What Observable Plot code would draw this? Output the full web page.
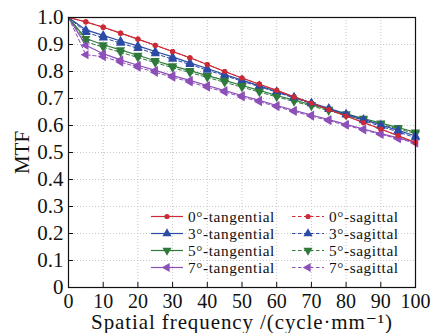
<!DOCTYPE html>
<html><head><meta charset="utf-8">
<script src="https://cdn.jsdelivr.net/npm/d3@7"></script>
<script src="https://cdn.jsdelivr.net/npm/@observablehq/plot@0.6"></script>
<style>
body{margin:0;background:#fff;}
#wrap{position:relative;width:432px;height:333px;}
#legend{position:absolute;left:0;top:0;font:15.3px "Liberation Serif","Times New Roman","DejaVu Serif",serif;letter-spacing:0.6px;color:#111;}
.row{position:absolute;height:17px;line-height:17px;white-space:nowrap;display:flex;align-items:center;}
.row svg{margin-right:5px;}
</style></head><body><div id="wrap"></div>
<script>
const freq = [0,5,10,15,20,25,30,35,40,45,50,55,60,65,70,75,80,85,90,95,100];
const t0 = [1.0,0.984,0.964,0.942,0.920,0.897,0.874,0.851,0.826,0.800,0.776,0.753,0.730,0.706,0.683,0.659,0.635,0.611,0.587,0.562,0.537];
const s0 = [1.0,0.984,0.964,0.942,0.920,0.897,0.874,0.851,0.826,0.800,0.776,0.753,0.730,0.706,0.683,0.659,0.635,0.611,0.587,0.562,0.537];
const t3 = [1.0,0.954,0.934,0.913,0.895,0.874,0.854,0.832,0.811,0.789,0.768,0.747,0.726,0.705,0.684,0.664,0.643,0.623,0.602,0.582,0.561];
const s3 = [1.0,0.945,0.925,0.905,0.886,0.866,0.846,0.826,0.805,0.785,0.764,0.744,0.723,0.702,0.681,0.660,0.639,0.618,0.597,0.576,0.555];
const t5 = [1.0,0.922,0.899,0.880,0.860,0.840,0.821,0.803,0.785,0.767,0.748,0.730,0.711,0.694,0.677,0.660,0.643,0.626,0.609,0.592,0.575];
const s5 = [1.0,0.910,0.890,0.871,0.852,0.833,0.814,0.796,0.778,0.760,0.742,0.724,0.706,0.689,0.672,0.655,0.638,0.621,0.604,0.587,0.570];
const t7 = [1.0,0.897,0.866,0.843,0.823,0.804,0.785,0.767,0.748,0.729,0.711,0.693,0.674,0.656,0.639,0.622,0.604,0.587,0.570,0.554,0.538];
const s7 = [1.0,0.862,0.855,0.835,0.816,0.797,0.779,0.761,0.742,0.724,0.706,0.688,0.670,0.652,0.635,0.618,0.601,0.584,0.567,0.551,0.535];
const xTicks = [0,10,20,30,40,50,60,70,80,90,100];
const yTicks = [0,0.1,0.2,0.3,0.4,0.5,0.6,0.7,0.8,0.9,1.0];

const series = [
  {name:"0°-tangential", vals:t0, color:"#cc2a36", symbol:"circle", rotate:0, dash:null},
  {name:"3°-tangential", vals:t3, color:"#2b4ba5", symbol:"triangle", rotate:0, dash:null},
  {name:"5°-tangential", vals:t5, color:"#2f7a3b", symbol:"triangle", rotate:180, dash:null},
  {name:"7°-tangential", vals:t7, color:"#8d4fb8", symbol:"triangle", rotate:-90, dash:null},
  {name:"0°-sagittal", vals:s0, color:"#cc2a36", symbol:"circle", rotate:0, dash:"3.5,2.5"},
  {name:"3°-sagittal", vals:s3, color:"#2b4ba5", symbol:"triangle", rotate:0, dash:"3.5,2.5"},
  {name:"5°-sagittal", vals:s5, color:"#2f7a3b", symbol:"triangle", rotate:180, dash:"3.5,2.5"},
  {name:"7°-sagittal", vals:s7, color:"#8d4fb8", symbol:"triangle", rotate:-90, dash:"3.5,2.5"}
];

const marks = [
  Plot.gridX(xTicks.slice(1,-1), {stroke:"#c8c8c8", strokeOpacity:1, strokeDasharray:"1,2"}),
  Plot.gridY(yTicks.slice(1,-1), {stroke:"#c8c8c8", strokeOpacity:1, strokeDasharray:"1,2"})
];
for (const s of [...series].reverse()) {
  const data = freq.map((f,i)=>({x:f, y:s.vals[i]}));
  marks.push(Plot.line(data, {x:"x", y:"y", stroke:s.color, strokeWidth:s.dash?1:1.2, strokeDasharray:s.dash}));
  marks.push(Plot.dot(data.filter(d=>d.x>0), {x:"x", y:"y", symbol:s.symbol, r:s.symbol==="circle"?2.6:3.4, fill:s.color, stroke:"none", rotate:s.rotate}));
}
marks.push(
  Plot.frame({stroke:"#111", strokeWidth:1.2}),
  Plot.axisX(xTicks, {tickSize:5, dy:-5, tickFormat:()=>"", stroke:"#111", label:null}),
  Plot.axisY(yTicks, {tickSize:5, dx:5, tickFormat:()=>"", stroke:"#111", label:null}),
  Plot.axisX(xTicks, {tickSize:0, tickPadding:6, fontSize:20, fill:"#111", label:null}),
  Plot.axisX(xTicks, {tickSize:0, tickFormat:()=>"", fontSize:21, fill:"#111", label:"Spatial frequency /(cycle·mm⁻¹)", labelAnchor:"center", labelArrow:"none", labelOffset:41.5}),
  Plot.axisY(yTicks, {tickSize:0, tickPadding:5, fontSize:21, fill:"#111", tickFormat:d=>d===0?"0":d.toFixed(1), label:"MTF", labelAnchor:"center", labelArrow:"none", labelOffset:54})
);

const chart = Plot.plot({
  width:432, height:333,
  marginLeft:68, marginRight:17, marginTop:17, marginBottom:46,
  style:{fontFamily:"'Liberation Serif', 'Times New Roman', 'DejaVu Serif', serif", fontSize:"21px", background:"#fff", color:"#111"},
  x:{domain:[0,100]},
  y:{domain:[0,1]},
  marks
});
const wrap = document.getElementById("wrap");
wrap.appendChild(chart);
d3.select(chart).selectAll('g[aria-label="x-axis label"] text').style("letter-spacing","0.9px");

// legend overlay
const legend = document.createElement("div");
legend.id = "legend";
wrap.appendChild(legend);
series.forEach((s,i)=>{
  const col = i < 4 ? 0 : 1;
  const row = i % 4;
  const div = document.createElement("div");
  div.className = "row";
  div.style.left = (col===0 ? 151 : 292) + "px";
  div.style.top = (207.5 + row*17) + "px";
  const W = 32, H = 17;
  const sym = s.symbol === "circle" ? d3.symbolCircle : d3.symbolTriangle;
  const r = s.symbol === "circle" ? 2.6 : 3.4;
  const path = d3.symbol(sym, Math.PI*r*r)();
  div.innerHTML = `<svg width="${W}" height="${H}"><line x1="0" x2="${W}" y1="${H/2}" y2="${H/2}" stroke="${s.color}" stroke-width="${s.dash?1:1.2}" ${s.dash?`stroke-dasharray="${s.dash}"`:""}/><path d="${path}" fill="${s.color}" transform="translate(${W/2},${H/2}) rotate(${s.rotate})"/></svg><span>${s.name}</span>`;
  legend.appendChild(div);
});
</script></body></html>
